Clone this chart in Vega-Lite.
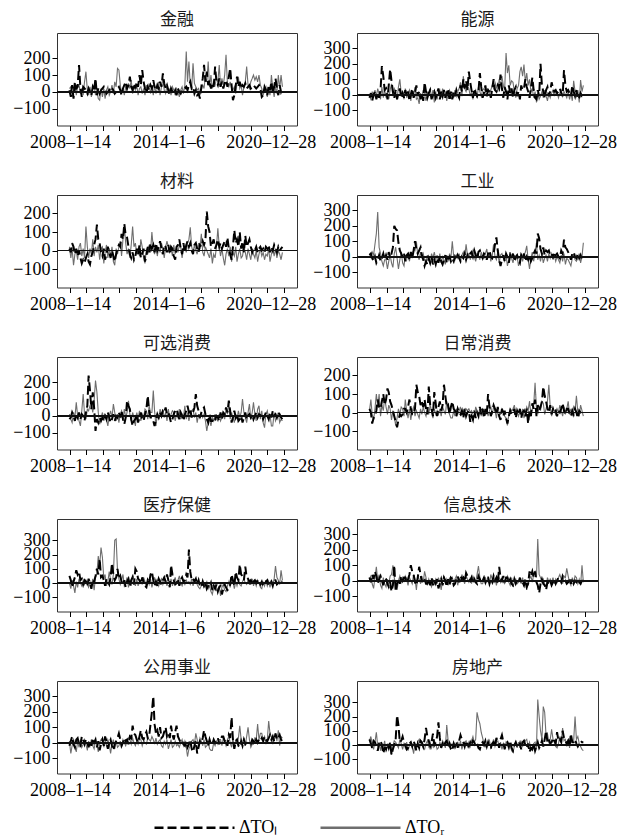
{
"$schema":"https://vega.github.io/schema/vega-lite/v6.json",
"padding":{"left":12,"top":10,"right":0,"bottom":0},
"background":"white",
"datasets":{"d":[
{"t":"2008-01","a":10,"A":20,"b":-20,"B":-10,"c":10,"C":20,"d":10,"D":20,"e":-20,"E":10,"f":20,"F":10,"g":50,"G":0,"h":20,"H":10,"i":-20,"I":10,"j":40,"J":30},
{"t":"2008-02","a":-30,"A":30,"b":10,"B":-30,"c":-10,"C":-40,"d":20,"D":-10,"e":-10,"E":-20,"f":0,"F":70,"g":20,"G":-40,"h":-10,"H":30,"i":10,"I":-70,"j":10,"J":60},
{"t":"2008-03","a":40,"A":-30,"b":-40,"B":20,"c":40,"C":10,"d":-10,"D":30,"e":20,"E":-40,"f":-60,"F":-10,"g":-30,"G":20,"h":40,"H":-20,"i":40,"I":-20,"j":-20,"J":10},
{"t":"2008-04","a":-40,"A":10,"b":0,"B":-20,"c":20,"C":-80,"d":-30,"D":10,"e":0,"E":20,"f":-30,"F":-40,"g":10,"G":-20,"h":10,"H":-50,"i":-10,"I":20,"j":30,"J":-30},
{"t":"2008-05","a":60,"A":50,"b":20,"B":30,"c":-20,"C":-20,"d":0,"D":80,"e":-30,"E":-10,"f":-20,"F":20,"g":40,"G":-70,"h":60,"H":20,"i":-30,"I":-10,"j":20,"J":20},
{"t":"2008-06","a":20,"A":-20,"b":-30,"B":-10,"c":10,"C":0,"d":-40,"D":150,"e":10,"E":80,"f":10,"F":100,"g":90,"G":10,"h":30,"H":90,"i":20,"I":-60,"j":-10,"J":90},
{"t":"2008-07","a":30,"A":30,"b":10,"B":40,"c":-30,"C":-50,"d":-20,"D":290,"e":-10,"E":0,"f":70,"F":30,"g":60,"G":-30,"h":-20,"H":0,"i":30,"I":10,"j":-40,"J":-10},
{"t":"2008-08","a":160,"A":40,"b":-20,"B":0,"c":0,"C":20,"d":10,"D":60,"e":20,"E":-30,"f":30,"F":100,"g":80,"G":30,"h":10,"H":40,"i":-10,"I":-30,"j":10,"J":20},
{"t":"2008-09","a":20,"A":-10,"b":30,"B":-30,"c":-40,"C":40,"d":-30,"D":20,"e":-20,"E":-60,"f":20,"F":-20,"g":20,"G":0,"h":30,"H":-30,"i":-20,"I":20,"j":30,"J":-40},
{"t":"2008-10","a":-30,"A":20,"b":185,"B":50,"c":-70,"C":-30,"d":-10,"D":-30,"e":10,"E":30,"f":60,"F":40,"g":30,"G":-20,"h":0,"H":-50,"i":40,"I":-30,"j":0,"J":10},
{"t":"2008-11","a":30,"A":-20,"b":120,"B":-20,"c":-50,"C":10,"d":20,"D":-60,"e":0,"E":130,"f":100,"F":10,"g":-10,"G":20,"h":-30,"H":20,"i":20,"I":-10,"j":-60,"J":-20},
{"t":"2008-12","a":20,"A":60,"b":30,"B":30,"c":-65,"C":-40,"d":-20,"D":-20,"e":-30,"E":10,"f":40,"F":80,"g":20,"G":-10,"h":20,"H":-20,"i":-10,"I":20,"j":-20,"J":30},
{"t":"2009-01","a":10,"A":120,"b":40,"B":-20,"c":-40,"C":130,"d":10,"D":-20,"e":20,"E":-20,"f":70,"F":30,"g":10,"G":20,"h":10,"H":-40,"i":20,"I":-10,"j":-30,"J":-50},
{"t":"2009-02","a":-10,"A":10,"b":-30,"B":20,"c":-20,"C":20,"d":-20,"D":-80,"e":60,"E":40,"f":130,"F":-10,"g":-20,"G":-10,"h":-20,"H":10,"i":0,"I":-50,"j":10,"J":10},
{"t":"2009-03","a":20,"A":-20,"b":60,"B":-30,"c":-60,"C":-40,"d":30,"D":-30,"e":240,"E":30,"f":110,"F":40,"g":30,"G":-30,"h":-40,"H":-20,"i":-30,"I":10,"j":-20,"J":-20},
{"t":"2009-04","a":0,"A":30,"b":165,"B":30,"c":-75,"C":10,"d":-10,"D":10,"e":150,"E":60,"f":60,"F":20,"g":0,"G":10,"h":-10,"H":30,"i":10,"I":-20,"j":20,"J":20},
{"t":"2009-05","a":-20,"A":-30,"b":90,"B":70,"c":-30,"C":-20,"d":20,"D":-40,"e":40,"E":80,"f":40,"F":-40,"g":-40,"G":-20,"h":-70,"H":40,"i":-20,"I":20,"j":-70,"J":-70},
{"t":"2009-06","a":30,"A":20,"b":20,"B":-10,"c":-10,"C":60,"d":60,"D":-70,"e":140,"E":20,"f":10,"F":10,"g":20,"G":30,"h":-30,"H":100,"i":30,"I":-20,"j":-30,"J":-10},
{"t":"2009-07","a":10,"A":40,"b":-20,"B":40,"c":30,"C":-30,"d":200,"D":20,"e":50,"E":90,"f":-20,"F":-20,"g":10,"G":-50,"h":100,"H":20,"i":0,"I":-40,"j":0,"J":30},
{"t":"2009-08","a":80,"A":-20,"b":30,"B":20,"c":60,"C":20,"d":180,"D":60,"e":-90,"E":210,"f":-50,"F":-70,"g":50,"G":40,"h":-70,"H":-30,"i":20,"I":10,"j":40,"J":20},
{"t":"2009-09","a":-20,"A":10,"b":-30,"B":-30,"c":140,"C":-10,"d":170,"D":-10,"e":-20,"E":140,"f":-80,"F":-30,"g":100,"G":70,"h":-20,"H":-60,"i":-30,"I":-10,"j":210,"J":0},
{"t":"2009-10","a":20,"A":-40,"b":10,"B":50,"c":60,"C":30,"d":90,"D":-80,"e":-40,"E":20,"f":-40,"F":20,"g":60,"G":190,"h":10,"H":0,"i":10,"I":-60,"j":140,"J":-20},
{"t":"2009-11","a":-10,"A":-50,"b":40,"B":100,"c":40,"C":-50,"d":40,"D":-20,"e":-10,"E":-50,"f":-10,"F":-10,"g":170,"G":120,"h":-20,"H":30,"i":-50,"I":0,"j":20,"J":40},
{"t":"2009-12","a":10,"A":20,"b":-20,"B":10,"c":-10,"C":10,"d":20,"D":30,"e":-30,"E":-10,"f":-20,"F":30,"g":40,"G":250,"h":30,"H":-10,"i":-10,"I":20,"j":30,"J":10},
{"t":"2010-01","a":20,"A":-30,"b":10,"B":20,"c":-30,"C":20,"d":0,"D":-40,"e":-10,"E":20,"f":-10,"F":20,"g":50,"G":180,"h":0,"H":20,"i":20,"I":30,"j":60,"J":-30},
{"t":"2010-02","a":30,"A":20,"b":-20,"B":-30,"c":10,"C":-70,"d":20,"D":-60,"e":-30,"E":-30,"f":20,"F":-20,"g":20,"G":30,"h":20,"H":-10,"i":-20,"I":-30,"j":20,"J":10},
{"t":"2010-03","a":10,"A":-40,"b":30,"B":40,"c":-50,"C":-10,"d":-30,"D":10,"e":0,"E":10,"f":20,"F":70,"g":-20,"G":60,"h":20,"H":30,"i":40,"I":10,"j":0,"J":-20},
{"t":"2010-04","a":-10,"A":10,"b":-10,"B":-20,"c":-20,"C":30,"d":10,"D":-20,"e":-20,"E":-20,"f":0,"F":10,"g":30,"G":-20,"h":-10,"H":10,"i":10,"I":-20,"j":-30,"J":20},
{"t":"2010-05","a":0,"A":30,"b":20,"B":10,"c":20,"C":-40,"d":20,"D":20,"e":20,"E":-60,"f":30,"F":-30,"g":10,"G":10,"h":10,"H":-30,"i":-40,"I":20,"j":-20,"J":-40},
{"t":"2010-06","a":10,"A":-20,"b":-40,"B":30,"c":-10,"C":10,"d":-20,"D":-30,"e":-10,"E":0,"f":70,"F":20,"g":-10,"G":80,"h":40,"H":20,"i":0,"I":-10,"j":10,"J":0},
{"t":"2010-07","a":30,"A":0,"b":0,"B":-40,"c":-40,"C":-30,"d":30,"D":30,"e":-40,"E":30,"f":20,"F":-40,"g":40,"G":20,"h":100,"H":0,"i":20,"I":-70,"j":20,"J":20},
{"t":"2010-08","a":20,"A":40,"b":40,"B":20,"c":0,"C":20,"d":-10,"D":-10,"e":-20,"E":-10,"f":-10,"F":10,"g":140,"G":-10,"h":60,"H":-20,"i":-20,"I":-10,"j":-10,"J":-10},
{"t":"2010-09","a":10,"A":-10,"b":-20,"B":-10,"c":-30,"C":-60,"d":40,"D":50,"e":10,"E":70,"f":-10,"F":30,"g":60,"G":60,"h":40,"H":40,"i":-50,"I":20,"j":30,"J":-60},
{"t":"2010-10","a":-10,"A":60,"b":10,"B":50,"c":-60,"C":-80,"d":100,"D":40,"e":-30,"E":20,"f":20,"F":-20,"g":20,"G":300,"h":-10,"H":10,"i":-10,"I":-40,"j":0,"J":10},
{"t":"2010-11","a":0,"A":30,"b":60,"B":-30,"c":-20,"C":10,"d":50,"D":100,"e":0,"E":-30,"f":150,"F":10,"g":40,"G":310,"h":-30,"H":-60,"i":10,"I":10,"j":-40,"J":-30},
{"t":"2010-12","a":20,"A":140,"b":-10,"B":-20,"c":10,"C":-20,"d":20,"D":10,"e":-10,"E":10,"f":110,"F":-10,"g":100,"G":90,"h":20,"H":30,"i":30,"I":-30,"j":10,"J":20},
{"t":"2011-01","a":30,"A":130,"b":20,"B":-60,"c":30,"C":20,"d":40,"D":-20,"e":20,"E":-40,"f":90,"F":-30,"g":30,"G":30,"h":90,"H":10,"i":60,"I":-20,"j":-20,"J":40},
{"t":"2011-02","a":10,"A":40,"b":-30,"B":10,"c":20,"C":50,"d":60,"D":30,"e":-10,"E":10,"f":40,"F":20,"g":50,"G":-10,"h":40,"H":-20,"i":20,"I":10,"j":30,"J":-10},
{"t":"2011-03","a":-20,"A":-10,"b":10,"B":-20,"c":90,"C":-30,"d":10,"D":-10,"e":30,"E":30,"f":60,"F":-10,"g":10,"G":20,"h":-10,"H":30,"i":-20,"I":-30,"j":20,"J":20},
{"t":"2011-04","a":20,"A":20,"b":-40,"B":30,"c":60,"C":60,"d":-20,"D":20,"e":-20,"E":-20,"f":30,"F":30,"g":-10,"G":60,"h":20,"H":-10,"i":0,"I":20,"j":-10,"J":-20},
{"t":"2011-05","a":40,"A":-20,"b":80,"B":0,"c":145,"C":130,"d":-60,"D":-20,"e":-50,"E":40,"f":70,"F":0,"g":20,"G":-20,"h":10,"H":60,"i":30,"I":0,"j":40,"J":-30},
{"t":"2011-06","a":60,"A":30,"b":20,"B":-40,"c":80,"C":40,"d":-30,"D":-40,"e":-10,"E":-10,"f":20,"F":-20,"g":-30,"G":0,"h":-20,"H":20,"i":10,"I":-20,"j":120,"J":10},
{"t":"2011-07","a":20,"A":10,"b":-20,"B":20,"c":70,"C":-20,"d":-50,"D":10,"e":90,"E":20,"f":-10,"F":20,"g":10,"G":40,"h":-20,"H":-30,"i":20,"I":10,"j":60,"J":30},
{"t":"2011-08","a":40,"A":50,"b":10,"B":-10,"c":20,"C":10,"d":-10,"D":-20,"e":60,"E":90,"f":140,"F":-10,"g":30,"G":-30,"h":10,"H":10,"i":-10,"I":30,"j":30,"J":-10},
{"t":"2011-09","a":90,"A":20,"b":30,"B":40,"c":-20,"C":-40,"d":-40,"D":-50,"e":40,"E":10,"f":40,"F":40,"g":-20,"G":10,"h":-30,"H":-20,"i":40,"I":20,"j":-10,"J":20},
{"t":"2011-10","a":30,"A":70,"b":-30,"B":-20,"c":-40,"C":30,"d":0,"D":20,"e":-20,"E":-30,"f":20,"F":10,"g":20,"G":-20,"h":20,"H":-40,"i":30,"I":-10,"j":20,"J":-20},
{"t":"2011-11","a":10,"A":-10,"b":0,"B":30,"c":-10,"C":130,"d":-50,"D":-10,"e":-60,"E":20,"f":-20,"F":-30,"g":40,"G":60,"h":-30,"H":10,"i":110,"I":30,"j":80,"J":10},
{"t":"2011-12","a":50,"A":30,"b":20,"B":-50,"c":-50,"C":20,"d":-20,"D":30,"e":-30,"E":-10,"f":110,"F":20,"g":-10,"G":20,"h":0,"H":-20,"i":60,"I":0,"j":0,"J":30},
{"t":"2012-01","a":20,"A":10,"b":-20,"B":20,"c":-30,"C":40,"d":-50,"D":-20,"e":-20,"E":-60,"f":50,"F":-10,"g":100,"G":-20,"h":-20,"H":10,"i":50,"I":-20,"j":20,"J":10},
{"t":"2012-02","a":60,"A":40,"b":10,"B":-30,"c":10,"C":-20,"d":-10,"D":10,"e":10,"E":20,"f":-20,"F":10,"g":80,"G":30,"h":10,"H":-20,"i":20,"I":10,"j":60,"J":-30},
{"t":"2012-03","a":30,"A":-20,"b":40,"B":10,"c":-20,"C":10,"d":-40,"D":-30,"e":-40,"E":-20,"f":30,"F":-10,"g":30,"G":-20,"h":-50,"H":20,"i":0,"I":-10,"j":160,"J":-20},
{"t":"2012-04","a":100,"A":20,"b":-30,"B":30,"c":30,"C":-30,"d":0,"D":20,"e":-10,"E":30,"f":60,"F":20,"g":20,"G":10,"h":-20,"H":-10,"i":40,"I":30,"j":50,"J":20},
{"t":"2012-05","a":40,"A":30,"b":20,"B":-20,"c":-40,"C":60,"d":-30,"D":-40,"e":20,"E":-30,"f":10,"F":-20,"g":-10,"G":20,"h":10,"H":-60,"i":80,"I":20,"j":-20,"J":-10},
{"t":"2012-06","a":130,"A":-10,"b":-10,"B":40,"c":-20,"C":20,"d":-50,"D":0,"e":-20,"E":10,"f":40,"F":30,"g":40,"G":-10,"h":-30,"H":0,"i":30,"I":-20,"j":10,"J":30},
{"t":"2012-07","a":60,"A":20,"b":30,"B":-10,"c":10,"C":-40,"d":-20,"D":-20,"e":-30,"E":-10,"f":150,"F":10,"g":10,"G":40,"h":20,"H":30,"i":20,"I":10,"j":-10,"J":10},
{"t":"2012-08","a":20,"A":-20,"b":-20,"B":20,"c":-60,"C":-70,"d":10,"D":-50,"e":10,"E":40,"f":90,"F":-10,"g":-20,"G":10,"h":0,"H":-20,"i":50,"I":0,"j":20,"J":-20},
{"t":"2012-09","a":-10,"A":40,"b":10,"B":-40,"c":-30,"C":10,"d":-40,"D":10,"e":40,"E":30,"f":30,"F":60,"g":-30,"G":-30,"h":-40,"H":10,"i":70,"I":-10,"j":30,"J":140},
{"t":"2012-10","a":30,"A":10,"b":40,"B":10,"c":20,"C":-20,"d":-10,"D":-30,"e":120,"E":-20,"f":40,"F":20,"g":20,"G":20,"h":10,"H":-30,"i":30,"I":30,"j":-20,"J":30},
{"t":"2012-11","a":10,"A":50,"b":-40,"B":30,"c":-10,"C":30,"d":0,"D":20,"e":30,"E":60,"f":-10,"F":-10,"g":0,"G":-10,"h":-30,"H":20,"i":40,"I":20,"j":10,"J":-20},
{"t":"2012-12","a":40,"A":-10,"b":20,"B":-20,"c":40,"C":-10,"d":-30,"D":-10,"e":-10,"E":20,"f":30,"F":-30,"g":60,"G":30,"h":20,"H":-10,"i":120,"I":10,"j":-30,"J":10},
{"t":"2013-01","a":20,"A":30,"b":-30,"B":10,"c":10,"C":100,"d":-10,"D":100,"e":-10,"E":20,"f":60,"F":-30,"g":80,"G":-30,"h":10,"H":20,"i":200,"I":40,"j":-40,"J":-10},
{"t":"2013-02","a":70,"A":-20,"b":20,"B":-20,"c":30,"C":10,"d":-30,"D":0,"e":-30,"E":150,"f":20,"F":10,"g":20,"G":10,"h":-30,"H":-10,"i":300,"I":20,"j":10,"J":20},
{"t":"2013-03","a":30,"A":40,"b":-10,"B":30,"c":-10,"C":-20,"d":0,"D":-20,"e":-60,"E":30,"f":10,"F":-20,"g":-20,"G":40,"h":-20,"H":10,"i":120,"I":-10,"j":-10,"J":-20},
{"t":"2013-04","a":10,"A":-10,"b":30,"B":-10,"c":40,"C":30,"d":-20,"D":10,"e":-20,"E":-60,"f":-20,"F":20,"g":10,"G":-10,"h":10,"H":30,"i":60,"I":30,"j":20,"J":10},
{"t":"2013-05","a":40,"A":20,"b":0,"B":20,"c":0,"C":-30,"d":10,"D":-10,"e":10,"E":10,"f":20,"F":-10,"g":-20,"G":20,"h":30,"H":-30,"i":80,"I":-10,"j":-20,"J":20},
{"t":"2013-06","a":20,"A":60,"b":-20,"B":40,"c":20,"C":20,"d":-10,"D":20,"e":-10,"E":-20,"f":0,"F":10,"g":30,"G":-20,"h":-10,"H":20,"i":40,"I":10,"j":30,"J":-10},
{"t":"2013-07","a":60,"A":-20,"b":60,"B":80,"c":50,"C":-10,"d":-30,"D":-30,"e":20,"E":40,"f":-10,"F":30,"g":10,"G":10,"h":30,"H":-10,"i":100,"I":20,"j":70,"J":30},
{"t":"2013-08","a":30,"A":30,"b":20,"B":-10,"c":10,"C":40,"d":0,"D":10,"e":0,"E":10,"f":10,"F":-20,"g":-10,"G":30,"h":10,"H":40,"i":30,"I":-20,"j":40,"J":-30},
{"t":"2013-09","a":110,"A":80,"b":100,"B":120,"c":-20,"C":10,"d":-10,"D":30,"e":30,"E":30,"f":-30,"F":10,"g":20,"G":-10,"h":20,"H":10,"i":40,"I":-30,"j":20,"J":10},
{"t":"2013-10","a":50,"A":10,"b":40,"B":40,"c":30,"C":-40,"d":20,"D":-10,"e":20,"E":-10,"f":20,"F":-10,"g":40,"G":20,"h":-10,"H":-20,"i":70,"I":10,"j":-10,"J":20},
{"t":"2013-11","a":20,"A":-10,"b":90,"B":20,"c":20,"C":20,"d":-20,"D":80,"e":50,"E":20,"f":-20,"F":20,"g":10,"G":20,"h":50,"H":30,"i":100,"I":-10,"j":30,"J":30},
{"t":"2013-12","a":40,"A":40,"b":30,"B":60,"c":-10,"C":50,"d":10,"D":10,"e":10,"E":-30,"f":0,"F":10,"g":60,"G":-20,"h":30,"H":10,"i":40,"I":20,"j":10,"J":-10},
{"t":"2014-01","a":10,"A":-10,"b":150,"B":40,"c":30,"C":20,"d":-10,"D":20,"e":20,"E":40,"f":10,"F":20,"g":20,"G":20,"h":20,"H":-10,"i":60,"I":-40,"j":-10,"J":20},
{"t":"2014-02","a":-20,"A":20,"b":80,"B":-10,"c":-20,"C":-10,"d":20,"D":-20,"e":-10,"E":-20,"f":-50,"F":0,"g":-30,"G":-10,"h":0,"H":20,"i":30,"I":-10,"j":20,"J":-10},
{"t":"2014-03","a":20,"A":-20,"b":30,"B":20,"c":20,"C":10,"d":30,"D":10,"e":-40,"E":10,"f":-20,"F":10,"g":125,"G":30,"h":20,"H":-20,"i":110,"I":20,"j":0,"J":30},
{"t":"2014-04","a":0,"A":30,"b":-20,"B":-30,"c":10,"C":-30,"d":0,"D":40,"e":-20,"E":30,"f":-40,"F":-10,"g":60,"G":-20,"h":-20,"H":30,"i":50,"I":-30,"j":30,"J":60},
{"t":"2014-05","a":-10,"A":10,"b":40,"B":10,"c":-30,"C":30,"d":40,"D":0,"e":10,"E":20,"f":10,"F":-20,"g":20,"G":10,"h":10,"H":10,"i":20,"I":-20,"j":20,"J":20},
{"t":"2014-06","a":10,"A":-20,"b":10,"B":30,"c":-50,"C":-20,"d":10,"D":-30,"e":30,"E":-30,"f":-30,"F":30,"g":-10,"G":40,"h":-10,"H":-10,"i":70,"I":10,"j":-10,"J":40},
{"t":"2014-07","a":-20,"A":20,"b":-10,"B":-20,"c":20,"C":20,"d":-20,"D":20,"e":40,"E":10,"f":0,"F":10,"g":0,"G":-10,"h":-20,"H":40,"i":110,"I":-20,"j":10,"J":230},
{"t":"2014-08","a":20,"A":0,"b":20,"B":50,"c":30,"C":-10,"d":30,"D":10,"e":10,"E":-10,"f":-20,"F":-10,"g":30,"G":20,"h":30,"H":95,"i":40,"I":-10,"j":-20,"J":180},
{"t":"2014-09","a":0,"A":-30,"b":140,"B":20,"c":60,"C":30,"d":40,"D":-20,"e":-20,"E":40,"f":30,"F":20,"g":-20,"G":50,"h":10,"H":20,"i":20,"I":-30,"j":-30,"J":150},
{"t":"2014-10","a":-10,"A":10,"b":50,"B":-10,"c":10,"C":20,"d":10,"D":30,"e":20,"E":-20,"f":-10,"F":-20,"g":20,"G":0,"h":-10,"H":-20,"i":0,"I":0,"j":10,"J":90},
{"t":"2014-11","a":10,"A":30,"b":-20,"B":30,"c":-20,"C":-40,"d":-10,"D":0,"e":0,"E":10,"f":20,"F":20,"g":40,"G":-20,"h":0,"H":-20,"i":10,"I":20,"j":20,"J":50},
{"t":"2014-12","a":20,"A":-10,"b":10,"B":40,"c":40,"C":10,"d":20,"D":-10,"e":-30,"E":-10,"f":-30,"F":10,"g":10,"G":10,"h":20,"H":10,"i":-10,"I":-20,"j":0,"J":10},
{"t":"2015-01","a":20,"A":40,"b":60,"B":20,"c":-10,"C":20,"d":10,"D":20,"e":10,"E":60,"f":20,"F":-10,"g":20,"G":-10,"h":-10,"H":20,"i":-20,"I":10,"j":30,"J":-10},
{"t":"2015-02","a":30,"A":240,"b":-10,"B":-10,"c":30,"C":-10,"d":-20,"D":50,"e":30,"E":-20,"f":-10,"F":20,"g":60,"G":20,"h":20,"H":-10,"i":10,"I":-30,"j":-10,"J":20},
{"t":"2015-03","a":10,"A":60,"b":30,"B":40,"c":50,"C":40,"d":20,"D":-10,"e":60,"E":20,"f":100,"F":-20,"g":40,"G":0,"h":20,"H":10,"i":-30,"I":-90,"j":20,"J":0},
{"t":"2015-04","a":40,"A":180,"b":20,"B":10,"c":20,"C":60,"d":40,"D":20,"e":20,"E":-30,"f":30,"F":10,"g":235,"G":10,"h":-20,"H":-20,"i":-10,"I":-40,"j":-20,"J":30},
{"t":"2015-05","a":60,"A":40,"b":-20,"B":30,"c":40,"C":125,"d":0,"D":-30,"e":40,"E":10,"f":-20,"F":30,"g":80,"G":-10,"h":10,"H":40,"i":20,"I":-20,"j":-20,"J":-20},
{"t":"2015-06","a":20,"A":20,"b":40,"B":60,"c":0,"C":20,"d":-10,"D":10,"e":-10,"E":30,"f":10,"F":-10,"g":20,"G":30,"h":-10,"H":10,"i":-40,"I":10,"j":10,"J":10},
{"t":"2015-07","a":30,"A":170,"b":100,"B":40,"c":-20,"C":-10,"d":20,"D":80,"e":20,"E":40,"f":40,"F":30,"g":30,"G":-20,"h":30,"H":-10,"i":-60,"I":20,"j":20,"J":40},
{"t":"2015-08","a":-10,"A":50,"b":30,"B":80,"c":30,"C":30,"d":80,"D":0,"e":50,"E":-10,"f":20,"F":10,"g":10,"G":10,"h":0,"H":20,"i":-20,"I":-10,"j":-10,"J":-10},
{"t":"2015-09","a":10,"A":30,"b":20,"B":50,"c":40,"C":0,"d":125,"D":-20,"e":130,"E":20,"f":-10,"F":-30,"g":30,"G":20,"h":20,"H":-30,"i":10,"I":60,"j":50,"J":20},
{"t":"2015-10","a":-20,"A":10,"b":60,"B":20,"c":10,"C":-20,"d":40,"D":30,"e":60,"E":-40,"f":30,"F":20,"g":-10,"G":-10,"h":-20,"H":10,"i":-70,"I":20,"j":20,"J":30},
{"t":"2015-11","a":-10,"A":20,"b":40,"B":100,"c":-10,"C":40,"d":-20,"D":-40,"e":30,"E":10,"f":-20,"F":0,"g":20,"G":-30,"h":90,"H":20,"i":-30,"I":-20,"j":-20,"J":-10},
{"t":"2015-12","a":-40,"A":-20,"b":130,"B":60,"c":30,"C":10,"d":-60,"D":10,"e":-10,"E":-20,"f":-40,"F":-10,"g":-20,"G":-40,"h":20,"H":-10,"i":10,"I":30,"j":40,"J":20},
{"t":"2016-01","a":30,"A":10,"b":40,"B":120,"c":20,"C":90,"d":-20,"D":20,"e":20,"E":20,"f":20,"F":20,"g":-30,"G":-20,"h":0,"H":20,"i":0,"I":10,"j":70,"J":-30},
{"t":"2016-02","a":80,"A":40,"b":-20,"B":60,"c":50,"C":-10,"d":10,"D":-10,"e":40,"E":-10,"f":-20,"F":10,"g":10,"G":10,"h":30,"H":-10,"i":30,"I":-20,"j":20,"J":10},
{"t":"2016-03","a":160,"A":20,"b":50,"B":30,"c":30,"C":-30,"d":-30,"D":-30,"e":50,"E":10,"f":10,"F":-20,"g":-20,"G":-30,"h":-10,"H":-20,"i":80,"I":20,"j":-30,"J":-20},
{"t":"2016-04","a":60,"A":100,"b":20,"B":270,"c":60,"C":20,"d":20,"D":10,"e":10,"E":-30,"f":-30,"F":-30,"g":0,"G":-10,"h":20,"H":10,"i":40,"I":-30,"j":10,"J":20},
{"t":"2016-05","a":120,"A":60,"b":-30,"B":140,"c":210,"C":0,"d":0,"D":-60,"e":-20,"E":-90,"f":-60,"F":-70,"g":-40,"G":10,"h":20,"H":30,"i":10,"I":-20,"j":20,"J":0},
{"t":"2016-06","a":40,"A":180,"b":60,"B":190,"c":130,"C":-20,"d":-40,"D":-20,"e":-40,"E":-40,"f":-20,"F":-10,"g":-20,"G":-40,"h":-10,"H":-10,"i":-20,"I":10,"j":-10,"J":-30},
{"t":"2016-07","a":70,"A":30,"b":10,"B":60,"c":100,"C":-40,"d":10,"D":30,"e":10,"E":-20,"f":10,"F":20,"g":-30,"G":-20,"h":10,"H":-30,"i":20,"I":-40,"j":30,"J":10},
{"t":"2016-08","a":20,"A":100,"b":40,"B":90,"c":20,"C":10,"d":-10,"D":-10,"e":-30,"E":-60,"f":-10,"F":10,"g":0,"G":-60,"h":-20,"H":20,"i":-10,"I":-50,"j":-20,"J":-40},
{"t":"2016-09","a":50,"A":20,"b":-20,"B":80,"c":40,"C":-70,"d":20,"D":-40,"e":-30,"E":-10,"f":0,"F":20,"g":-50,"G":-80,"h":-30,"H":-40,"i":-10,"I":-50,"j":-40,"J":-50},
{"t":"2016-10","a":30,"A":60,"b":30,"B":20,"c":60,"C":-20,"d":-30,"D":10,"e":-10,"E":-30,"f":20,"F":40,"g":-20,"G":-30,"h":10,"H":-10,"i":20,"I":0,"j":0,"J":-10},
{"t":"2016-11","a":150,"A":40,"b":50,"B":-20,"c":10,"C":-40,"d":0,"D":-20,"e":-20,"E":10,"f":-30,"F":-10,"g":-40,"G":-10,"h":-20,"H":10,"i":0,"I":-20,"j":20,"J":20},
{"t":"2016-12","a":60,"A":80,"b":-10,"B":40,"c":30,"C":20,"d":10,"D":0,"e":0,"E":-20,"f":10,"F":0,"g":-10,"G":-50,"h":0,"H":-20,"i":10,"I":10,"j":-10,"J":-20},
{"t":"2017-01","a":40,"A":60,"b":20,"B":60,"c":60,"C":120,"d":-20,"D":-60,"e":-10,"E":-30,"f":-10,"F":-20,"g":-60,"G":-40,"h":-10,"H":-10,"i":30,"I":-10,"j":-20,"J":20},
{"t":"2017-02","a":80,"A":160,"b":-30,"B":150,"c":20,"C":20,"d":-40,"D":-20,"e":-30,"E":10,"f":20,"F":10,"g":-30,"G":-20,"h":20,"H":10,"i":-10,"I":20,"j":10,"J":-20},
{"t":"2017-03","a":30,"A":30,"b":60,"B":180,"c":40,"C":-30,"d":10,"D":20,"e":20,"E":-30,"f":-30,"F":-20,"g":-20,"G":-90,"h":-20,"H":-20,"i":20,"I":20,"j":-30,"J":20},
{"t":"2017-04","a":60,"A":80,"b":30,"B":120,"c":10,"C":10,"d":-10,"D":-30,"e":-20,"E":-10,"f":0,"F":20,"g":-80,"G":-30,"h":-10,"H":20,"i":40,"I":-20,"j":20,"J":-10},
{"t":"2017-05","a":20,"A":40,"b":40,"B":195,"c":30,"C":-40,"d":20,"D":10,"e":20,"E":20,"f":10,"F":-30,"g":-40,"G":-10,"h":-30,"H":-30,"i":40,"I":30,"j":30,"J":10},
{"t":"2017-06","a":50,"A":100,"b":100,"B":80,"c":50,"C":-80,"d":-30,"D":30,"e":10,"E":-20,"f":-20,"F":0,"g":-10,"G":-50,"h":10,"H":-10,"i":10,"I":10,"j":0,"J":30},
{"t":"2017-07","a":70,"A":220,"b":50,"B":140,"c":20,"C":-20,"d":0,"D":70,"e":50,"E":40,"f":20,"F":30,"g":-30,"G":-60,"h":-40,"H":-60,"i":20,"I":-20,"j":-20,"J":40},
{"t":"2017-08","a":30,"A":50,"b":20,"B":60,"c":70,"C":10,"d":-20,"D":-20,"e":20,"E":10,"f":-60,"F":10,"g":-50,"G":-20,"h":-20,"H":-20,"i":-20,"I":20,"j":10,"J":-10},
{"t":"2017-09","a":90,"A":30,"b":-20,"B":100,"c":10,"C":-30,"d":10,"D":-80,"e":90,"E":80,"f":10,"F":60,"g":-40,"G":10,"h":60,"H":10,"i":50,"I":40,"j":-50,"J":20},
{"t":"2017-10","a":140,"A":60,"b":40,"B":20,"c":-20,"C":20,"d":-30,"D":-10,"e":30,"E":-20,"f":-20,"F":-10,"g":-10,"G":-30,"h":30,"H":30,"i":30,"I":0,"j":-20,"J":-30},
{"t":"2017-11","a":40,"A":20,"b":110,"B":40,"c":-50,"C":-60,"d":-10,"D":30,"e":-40,"E":20,"f":50,"F":20,"g":60,"G":40,"h":60,"H":-10,"i":165,"I":-30,"j":-30,"J":-40},
{"t":"2017-12","a":-50,"A":10,"b":30,"B":-20,"c":20,"C":-10,"d":20,"D":-30,"e":-10,"E":-10,"f":20,"F":40,"g":20,"G":10,"h":20,"H":40,"i":20,"I":30,"j":10,"J":10},
{"t":"2018-01","a":-20,"A":30,"b":-20,"B":20,"c":110,"C":-30,"d":40,"D":20,"e":30,"E":-40,"f":70,"F":160,"g":-20,"G":-40,"h":60,"H":60,"i":-40,"I":-40,"j":-40,"J":20},
{"t":"2018-02","a":40,"A":-10,"b":-30,"B":-50,"c":40,"C":20,"d":20,"D":90,"e":-10,"E":10,"f":-20,"F":20,"g":80,"G":10,"h":-10,"H":20,"i":10,"I":20,"j":-10,"J":-20},
{"t":"2018-03","a":90,"A":50,"b":30,"B":10,"c":60,"C":-60,"d":150,"D":-20,"e":10,"E":-20,"f":40,"F":-10,"g":40,"G":-20,"h":-30,"H":270,"i":20,"I":-10,"j":20,"J":320},
{"t":"2018-04","a":30,"A":90,"b":-10,"B":-30,"c":20,"C":-20,"d":120,"D":10,"e":-30,"E":30,"f":10,"F":30,"g":20,"G":20,"h":-80,"H":40,"i":-20,"I":30,"j":-20,"J":200},
{"t":"2018-05","a":60,"A":20,"b":200,"B":-10,"c":100,"C":10,"d":50,"D":-30,"e":-20,"E":-10,"f":30,"F":10,"g":130,"G":-10,"h":-20,"H":20,"i":-30,"I":110,"j":0,"J":100},
{"t":"2018-06","a":20,"A":40,"b":60,"B":20,"c":10,"C":-40,"d":20,"D":20,"e":0,"E":20,"f":60,"F":60,"g":60,"G":-20,"h":10,"H":-10,"i":10,"I":20,"j":30,"J":40},
{"t":"2018-07","a":40,"A":-20,"b":20,"B":-20,"c":50,"C":-30,"d":60,"D":-40,"e":-40,"E":100,"f":140,"F":50,"g":50,"G":10,"h":-20,"H":10,"i":-20,"I":-10,"j":-10,"J":270},
{"t":"2018-08","a":30,"A":30,"b":-20,"B":30,"c":-10,"C":20,"d":10,"D":-10,"e":-10,"E":20,"f":90,"F":-10,"g":20,"G":30,"h":-30,"H":-20,"i":20,"I":30,"j":40,"J":230},
{"t":"2018-09","a":50,"A":60,"b":30,"B":-10,"c":80,"C":-10,"d":40,"D":10,"e":20,"E":-10,"f":60,"F":20,"g":115,"G":0,"h":-60,"H":-40,"i":-10,"I":-20,"j":100,"J":60},
{"t":"2018-10","a":20,"A":150,"b":50,"B":-40,"c":20,"C":-50,"d":30,"D":-30,"e":-20,"E":-40,"f":20,"F":60,"g":40,"G":-10,"h":-10,"H":20,"i":0,"I":40,"j":20,"J":80},
{"t":"2018-11","a":30,"A":40,"b":-10,"B":10,"c":40,"C":10,"d":40,"D":20,"e":0,"E":20,"f":0,"F":150,"g":30,"G":20,"h":-20,"H":-10,"i":0,"I":100,"j":40,"J":20},
{"t":"2018-12","a":40,"A":20,"b":20,"B":-20,"c":60,"C":-20,"d":10,"D":-10,"e":10,"E":70,"f":40,"F":30,"g":10,"G":-10,"h":0,"H":10,"i":-10,"I":20,"j":10,"J":40},
{"t":"2019-01","a":20,"A":60,"b":80,"B":10,"c":20,"C":-50,"d":20,"D":20,"e":-10,"E":-20,"f":-10,"F":-20,"g":20,"G":-10,"h":-30,"H":-10,"i":-10,"I":-30,"j":20,"J":110},
{"t":"2019-02","a":30,"A":80,"b":40,"B":30,"c":-10,"C":10,"d":-10,"D":-20,"e":10,"E":20,"f":20,"F":20,"g":-10,"G":30,"h":-10,"H":20,"i":20,"I":-10,"j":50,"J":40},
{"t":"2019-03","a":40,"A":100,"b":20,"B":-10,"c":10,"C":-20,"d":30,"D":10,"e":-20,"E":80,"f":0,"F":10,"g":10,"G":-20,"h":10,"H":-20,"i":10,"I":-10,"j":30,"J":20},
{"t":"2019-04","a":30,"A":70,"b":30,"B":20,"c":0,"C":-40,"d":10,"D":-30,"e":0,"E":10,"f":10,"F":-10,"g":20,"G":10,"h":-20,"H":10,"i":-10,"I":30,"j":10,"J":-10},
{"t":"2019-05","a":20,"A":90,"b":10,"B":20,"c":20,"C":0,"d":20,"D":0,"e":20,"E":-30,"f":-20,"F":20,"g":0,"G":-20,"h":0,"H":-10,"i":20,"I":20,"j":90,"J":-20},
{"t":"2019-06","a":30,"A":60,"b":20,"B":-20,"c":-10,"C":-60,"d":0,"D":-20,"e":-10,"E":40,"f":10,"F":0,"g":20,"G":20,"h":20,"H":20,"i":0,"I":120,"j":30,"J":10},
{"t":"2019-07","a":40,"A":100,"b":40,"B":10,"c":10,"C":-20,"d":-10,"D":-40,"e":10,"E":60,"f":0,"F":40,"g":20,"G":0,"h":10,"H":40,"i":20,"I":20,"j":40,"J":60},
{"t":"2019-08","a":20,"A":40,"b":10,"B":30,"c":20,"C":10,"d":40,"D":10,"e":0,"E":-20,"f":20,"F":10,"g":-10,"G":-30,"h":-10,"H":10,"i":10,"I":60,"j":20,"J":20},
{"t":"2019-09","a":-30,"A":20,"b":-10,"B":-10,"c":0,"C":-30,"d":20,"D":-30,"e":10,"E":30,"f":50,"F":-20,"g":10,"G":-40,"h":30,"H":-20,"i":30,"I":60,"j":100,"J":120},
{"t":"2019-10","a":-20,"A":-20,"b":160,"B":20,"c":10,"C":-10,"d":110,"D":20,"e":-20,"E":-40,"f":10,"F":30,"g":-20,"G":10,"h":10,"H":30,"i":10,"I":20,"j":50,"J":30},
{"t":"2019-11","a":30,"A":10,"b":60,"B":0,"c":-10,"C":-50,"d":60,"D":-50,"e":0,"E":-70,"f":-10,"F":-10,"g":-20,"G":-20,"h":0,"H":20,"i":40,"I":40,"j":30,"J":40},
{"t":"2019-12","a":10,"A":30,"b":20,"B":-20,"c":20,"C":-20,"d":50,"D":-10,"e":20,"E":10,"f":20,"F":20,"g":10,"G":20,"h":-20,"H":80,"i":20,"I":-10,"j":10,"J":-10},
{"t":"2020-01","a":-20,"A":-30,"b":30,"B":20,"c":10,"C":-30,"d":30,"D":-20,"e":0,"E":30,"f":20,"F":60,"g":20,"G":-20,"h":-10,"H":30,"i":10,"I":20,"j":30,"J":40},
{"t":"2020-02","a":40,"A":20,"b":10,"B":-30,"c":30,"C":10,"d":10,"D":-40,"e":-20,"E":-20,"f":-10,"F":-10,"g":-20,"G":10,"h":20,"H":-10,"i":30,"I":140,"j":-10,"J":-20},
{"t":"2020-03","a":10,"A":-20,"b":-10,"B":10,"c":-10,"C":-60,"d":-20,"D":-60,"e":20,"E":10,"f":-20,"F":20,"g":-10,"G":-30,"h":-20,"H":-30,"i":50,"I":60,"j":80,"J":60},
{"t":"2020-04","a":60,"A":100,"b":60,"B":-40,"c":20,"C":-20,"d":20,"D":-10,"e":-10,"E":-60,"f":10,"F":-20,"g":10,"G":20,"h":10,"H":20,"i":20,"I":40,"j":20,"J":20},
{"t":"2020-05","a":-10,"A":20,"b":20,"B":90,"c":0,"C":10,"d":30,"D":10,"e":30,"E":-60,"f":-10,"F":30,"g":-20,"G":-10,"h":-20,"H":-10,"i":40,"I":-10,"j":20,"J":30},
{"t":"2020-06","a":30,"A":-30,"b":-10,"B":20,"c":30,"C":-30,"d":0,"D":-20,"e":0,"E":20,"f":20,"F":10,"g":20,"G":30,"h":0,"H":30,"i":10,"I":20,"j":40,"J":200},
{"t":"2020-07","a":80,"A":30,"b":30,"B":-10,"c":10,"C":10,"d":-10,"D":-30,"e":10,"E":-30,"f":0,"F":90,"g":20,"G":120,"h":-10,"H":20,"i":60,"I":60,"j":10,"J":40},
{"t":"2020-08","a":20,"A":-10,"b":-30,"B":30,"c":-10,"C":-40,"d":20,"D":-10,"e":-10,"E":-10,"f":-30,"F":0,"g":-10,"G":40,"h":10,"H":-20,"i":20,"I":10,"j":-10,"J":60},
{"t":"2020-09","a":-20,"A":100,"b":-20,"B":-50,"c":20,"C":0,"d":-10,"D":20,"e":20,"E":20,"f":10,"F":-20,"g":0,"G":20,"h":-10,"H":10,"i":30,"I":80,"j":10,"J":10},
{"t":"2020-10","a":40,"A":20,"b":10,"B":95,"c":0,"C":-20,"d":10,"D":-40,"e":10,"E":-40,"f":0,"F":40,"g":20,"G":-10,"h":-20,"H":-30,"i":50,"I":-20,"j":30,"J":-10},
{"t":"2020-11","a":0,"A":100,"b":-10,"B":20,"c":10,"C":-50,"d":-20,"D":0,"e":-10,"E":-20,"f":-10,"F":10,"g":10,"G":90,"h":0,"H":100,"i":20,"I":40,"j":20,"J":-30},
{"t":"2020-12","a":20,"A":30,"b":-10,"B":60,"c":20,"C":-10,"d":-20,"D":90,"e":-20,"E":-30,"f":-20,"F":-20,"g":10,"G":20,"h":0,"H":-10,"i":10,"I":30,"j":20,"J":-40}
]},
"data":{"name":"d"},
"columns":2,
"spacing":{"row":69,"column":60},
"bounds":"flush",
"resolve":{"scale":{"color":"shared","strokeDash":"shared"},"legend":{"color":"shared","strokeDash":"shared"}},
"config":{
"view":{"stroke":"#333","strokeWidth":1},
"axis":{"grid":false,"domain":false,"tickColor":"#000","tickSize":5,"labelFont":"Liberation Serif","labelFontSize":18,"labelColor":"#000","labelPadding":2,"labelFlush":false,"labelBound":false,"labelOverlap":false},
"axisX":{"labelPadding":3},
"title":{"font":"Noto Sans CJK SC","fontSize":17,"fontWeight":400,"color":"#1a1a1a","offset":4},
"legend":{"symbolType":"stroke","symbolSize":6400,"symbolStrokeWidth":2.5,"labelFont":"Liberation Serif","labelFontSize":18,"labelColor":"#000","columnPadding":37,"labelOffset":3}
},
"concat":[
{"title":"金融","width":240,"height":92.5,"resolve":{"axis":{"x":"independent","y":"independent"}},"layer":[
{"mark":{"type":"line","strokeWidth":1.1},"encoding":{"x":{"field":"t","type":"temporal","scale":{"type":"utc","domain":[{"year":2007,"month":4,"date":1,"utc":true},{"year":2021,"month":10,"date":20,"utc":true}]},"axis":{"title":null,"orient":"bottom","labelOffset":{"condition":{"test":"utcyear(datum.value) == 2020","value":-13},"value":0},"values":[{"year":2008,"month":1,"date":14,"utc":true},{"year":2014,"month":1,"date":6,"utc":true},{"year":2020,"month":12,"date":28,"utc":true}],"labelExpr":"utcFormat(datum.value, '%Y–%-m–%-d')"}},"y":{"field":"A","type":"quantitative","scale":{"domain":[-180,312]},"axis":{"title":null,"orient":"left","values":[-100,100]}},"color":{"datum":"ΔTOᵣ","scale":{"domain":["ΔTOₗ","ΔTOᵣ"],"range":["#000000","#6e6e6e"]},"legend":{"title":null,"orient":"none","direction":"horizontal","legendX":96,"legendY":753}},"strokeDash":{"datum":"ΔTOᵣ","scale":{"domain":["ΔTOₗ","ΔTOᵣ"],"range":[[9,4],[1,0]]},"legend":{"title":null,"orient":"none","direction":"horizontal","legendX":96,"legendY":753}}}},
{"mark":{"type":"line","strokeWidth":2},"encoding":{"x":{"field":"t","type":"temporal","axis":{"title":null,"orient":"bottom","labels":false,"values":[{"year":2008,"month":1,"date":14,"utc":true},{"year":2009,"month":1,"date":12,"utc":true},{"year":2010,"month":1,"date":11,"utc":true},{"year":2011,"month":1,"date":10,"utc":true},{"year":2012,"month":1,"date":9,"utc":true},{"year":2013,"month":1,"date":7,"utc":true},{"year":2014,"month":1,"date":6,"utc":true},{"year":2015,"month":1,"date":5,"utc":true},{"year":2016,"month":1,"date":4,"utc":true},{"year":2017,"month":1,"date":2,"utc":true},{"year":2018,"month":1,"date":1,"utc":true},{"year":2018,"month":12,"date":31,"utc":true},{"year":2019,"month":12,"date":30,"utc":true},{"year":2020,"month":12,"date":28,"utc":true}]}},"y":{"field":"a","type":"quantitative","axis":{"title":null,"orient":"left","values":[0,200]}},"color":{"datum":"ΔTOₗ"},"strokeDash":{"datum":"ΔTOₗ"}}},
{"mark":{"type":"rule","color":"#111","strokeWidth":1.2},"encoding":{"y":{"datum":0,"axis":null}}}
]},
{"title":"能源","width":241,"height":92.5,"resolve":{"axis":{"x":"independent","y":"independent"}},"layer":[
{"mark":{"type":"line","strokeWidth":1.1},"encoding":{"x":{"field":"t","type":"temporal","scale":{"type":"utc","domain":[{"year":2007,"month":4,"date":1,"utc":true},{"year":2021,"month":10,"date":20,"utc":true}]},"axis":{"title":null,"orient":"bottom","labelOffset":{"condition":{"test":"utcyear(datum.value) == 2020","value":-13},"value":0},"values":[{"year":2008,"month":1,"date":14,"utc":true},{"year":2014,"month":1,"date":6,"utc":true},{"year":2020,"month":12,"date":28,"utc":true}],"labelExpr":"utcFormat(datum.value, '%Y–%-m–%-d')"}},"y":{"field":"B","type":"quantitative","scale":{"domain":[-190,385]},"axis":{"title":null,"orient":"left","values":[-100,100,300]}},"color":{"datum":"ΔTOᵣ"},"strokeDash":{"datum":"ΔTOᵣ"}}},
{"mark":{"type":"line","strokeWidth":2},"encoding":{"x":{"field":"t","type":"temporal","axis":{"title":null,"orient":"bottom","labels":false,"values":[{"year":2008,"month":1,"date":14,"utc":true},{"year":2009,"month":1,"date":12,"utc":true},{"year":2010,"month":1,"date":11,"utc":true},{"year":2011,"month":1,"date":10,"utc":true},{"year":2012,"month":1,"date":9,"utc":true},{"year":2013,"month":1,"date":7,"utc":true},{"year":2014,"month":1,"date":6,"utc":true},{"year":2015,"month":1,"date":5,"utc":true},{"year":2016,"month":1,"date":4,"utc":true},{"year":2017,"month":1,"date":2,"utc":true},{"year":2018,"month":1,"date":1,"utc":true},{"year":2018,"month":12,"date":31,"utc":true},{"year":2019,"month":12,"date":30,"utc":true},{"year":2020,"month":12,"date":28,"utc":true}]}},"y":{"field":"b","type":"quantitative","axis":{"title":null,"orient":"left","values":[0,200]}},"color":{"datum":"ΔTOₗ"},"strokeDash":{"datum":"ΔTOₗ"}}},
{"mark":{"type":"rule","color":"#111","strokeWidth":1.2},"encoding":{"y":{"datum":0,"axis":null}}}
]},
{"title":"材料","width":240,"height":92.5,"resolve":{"axis":{"x":"independent","y":"independent"}},"layer":[
{"mark":{"type":"line","strokeWidth":1.1},"encoding":{"x":{"field":"t","type":"temporal","scale":{"type":"utc","domain":[{"year":2007,"month":4,"date":1,"utc":true},{"year":2021,"month":10,"date":20,"utc":true}]},"axis":{"title":null,"orient":"bottom","labelOffset":{"condition":{"test":"utcyear(datum.value) == 2020","value":-13},"value":0},"values":[{"year":2008,"month":1,"date":14,"utc":true},{"year":2014,"month":1,"date":6,"utc":true},{"year":2020,"month":12,"date":28,"utc":true}],"labelExpr":"utcFormat(datum.value, '%Y–%-m–%-d')"}},"y":{"field":"C","type":"quantitative","scale":{"domain":[-169,282]},"axis":{"title":null,"orient":"left","values":[-100,100]}},"color":{"datum":"ΔTOᵣ"},"strokeDash":{"datum":"ΔTOᵣ"}}},
{"mark":{"type":"line","strokeWidth":2},"encoding":{"x":{"field":"t","type":"temporal","axis":{"title":null,"orient":"bottom","labels":false,"values":[{"year":2008,"month":1,"date":14,"utc":true},{"year":2009,"month":1,"date":12,"utc":true},{"year":2010,"month":1,"date":11,"utc":true},{"year":2011,"month":1,"date":10,"utc":true},{"year":2012,"month":1,"date":9,"utc":true},{"year":2013,"month":1,"date":7,"utc":true},{"year":2014,"month":1,"date":6,"utc":true},{"year":2015,"month":1,"date":5,"utc":true},{"year":2016,"month":1,"date":4,"utc":true},{"year":2017,"month":1,"date":2,"utc":true},{"year":2018,"month":1,"date":1,"utc":true},{"year":2018,"month":12,"date":31,"utc":true},{"year":2019,"month":12,"date":30,"utc":true},{"year":2020,"month":12,"date":28,"utc":true}]}},"y":{"field":"c","type":"quantitative","axis":{"title":null,"orient":"left","values":[0,200]}},"color":{"datum":"ΔTOₗ"},"strokeDash":{"datum":"ΔTOₗ"}}},
{"mark":{"type":"rule","color":"#111","strokeWidth":1.2},"encoding":{"y":{"datum":0,"axis":null}}}
]},
{"title":"工业","width":241,"height":92.5,"resolve":{"axis":{"x":"independent","y":"independent"}},"layer":[
{"mark":{"type":"line","strokeWidth":1.1},"encoding":{"x":{"field":"t","type":"temporal","scale":{"type":"utc","domain":[{"year":2007,"month":4,"date":1,"utc":true},{"year":2021,"month":10,"date":20,"utc":true}]},"axis":{"title":null,"orient":"bottom","labelOffset":{"condition":{"test":"utcyear(datum.value) == 2020","value":-13},"value":0},"values":[{"year":2008,"month":1,"date":14,"utc":true},{"year":2014,"month":1,"date":6,"utc":true},{"year":2020,"month":12,"date":28,"utc":true}],"labelExpr":"utcFormat(datum.value, '%Y–%-m–%-d')"}},"y":{"field":"D","type":"quantitative","scale":{"domain":[-193,394]},"axis":{"title":null,"orient":"left","values":[-100,100,300]}},"color":{"datum":"ΔTOᵣ"},"strokeDash":{"datum":"ΔTOᵣ"}}},
{"mark":{"type":"line","strokeWidth":2},"encoding":{"x":{"field":"t","type":"temporal","axis":{"title":null,"orient":"bottom","labels":false,"values":[{"year":2008,"month":1,"date":14,"utc":true},{"year":2009,"month":1,"date":12,"utc":true},{"year":2010,"month":1,"date":11,"utc":true},{"year":2011,"month":1,"date":10,"utc":true},{"year":2012,"month":1,"date":9,"utc":true},{"year":2013,"month":1,"date":7,"utc":true},{"year":2014,"month":1,"date":6,"utc":true},{"year":2015,"month":1,"date":5,"utc":true},{"year":2016,"month":1,"date":4,"utc":true},{"year":2017,"month":1,"date":2,"utc":true},{"year":2018,"month":1,"date":1,"utc":true},{"year":2018,"month":12,"date":31,"utc":true},{"year":2019,"month":12,"date":30,"utc":true},{"year":2020,"month":12,"date":28,"utc":true}]}},"y":{"field":"d","type":"quantitative","axis":{"title":null,"orient":"left","values":[0,200]}},"color":{"datum":"ΔTOₗ"},"strokeDash":{"datum":"ΔTOₗ"}}},
{"mark":{"type":"rule","color":"#111","strokeWidth":1.2},"encoding":{"y":{"datum":0,"axis":null}}}
]},
{"title":"可选消费","width":240,"height":92.5,"resolve":{"axis":{"x":"independent","y":"independent"}},"layer":[
{"mark":{"type":"line","strokeWidth":1.1},"encoding":{"x":{"field":"t","type":"temporal","scale":{"type":"utc","domain":[{"year":2007,"month":4,"date":1,"utc":true},{"year":2021,"month":10,"date":20,"utc":true}]},"axis":{"title":null,"orient":"bottom","labelOffset":{"condition":{"test":"utcyear(datum.value) == 2020","value":-13},"value":0},"values":[{"year":2008,"month":1,"date":14,"utc":true},{"year":2014,"month":1,"date":6,"utc":true},{"year":2020,"month":12,"date":28,"utc":true}],"labelExpr":"utcFormat(datum.value, '%Y–%-m–%-d')"}},"y":{"field":"E","type":"quantitative","scale":{"domain":[-180,314]},"axis":{"title":null,"orient":"left","values":[-100,100]}},"color":{"datum":"ΔTOᵣ"},"strokeDash":{"datum":"ΔTOᵣ"}}},
{"mark":{"type":"line","strokeWidth":2},"encoding":{"x":{"field":"t","type":"temporal","axis":{"title":null,"orient":"bottom","labels":false,"values":[{"year":2008,"month":1,"date":14,"utc":true},{"year":2009,"month":1,"date":12,"utc":true},{"year":2010,"month":1,"date":11,"utc":true},{"year":2011,"month":1,"date":10,"utc":true},{"year":2012,"month":1,"date":9,"utc":true},{"year":2013,"month":1,"date":7,"utc":true},{"year":2014,"month":1,"date":6,"utc":true},{"year":2015,"month":1,"date":5,"utc":true},{"year":2016,"month":1,"date":4,"utc":true},{"year":2017,"month":1,"date":2,"utc":true},{"year":2018,"month":1,"date":1,"utc":true},{"year":2018,"month":12,"date":31,"utc":true},{"year":2019,"month":12,"date":30,"utc":true},{"year":2020,"month":12,"date":28,"utc":true}]}},"y":{"field":"e","type":"quantitative","axis":{"title":null,"orient":"left","values":[0,200]}},"color":{"datum":"ΔTOₗ"},"strokeDash":{"datum":"ΔTOₗ"}}},
{"mark":{"type":"rule","color":"#111","strokeWidth":1.2},"encoding":{"y":{"datum":0,"axis":null}}}
]},
{"title":"日常消费","width":241,"height":92.5,"resolve":{"axis":{"x":"independent","y":"independent"}},"layer":[
{"mark":{"type":"line","strokeWidth":1.1},"encoding":{"x":{"field":"t","type":"temporal","scale":{"type":"utc","domain":[{"year":2007,"month":4,"date":1,"utc":true},{"year":2021,"month":10,"date":20,"utc":true}]},"axis":{"title":null,"orient":"bottom","labelOffset":{"condition":{"test":"utcyear(datum.value) == 2020","value":-13},"value":0},"values":[{"year":2008,"month":1,"date":14,"utc":true},{"year":2014,"month":1,"date":6,"utc":true},{"year":2020,"month":12,"date":28,"utc":true}],"labelExpr":"utcFormat(datum.value, '%Y–%-m–%-d')"}},"y":{"field":"F","type":"quantitative","scale":{"domain":[-168,267]},"axis":{"title":null,"orient":"left","values":[-100,100]}},"color":{"datum":"ΔTOᵣ"},"strokeDash":{"datum":"ΔTOᵣ"}}},
{"mark":{"type":"line","strokeWidth":2},"encoding":{"x":{"field":"t","type":"temporal","axis":{"title":null,"orient":"bottom","labels":false,"values":[{"year":2008,"month":1,"date":14,"utc":true},{"year":2009,"month":1,"date":12,"utc":true},{"year":2010,"month":1,"date":11,"utc":true},{"year":2011,"month":1,"date":10,"utc":true},{"year":2012,"month":1,"date":9,"utc":true},{"year":2013,"month":1,"date":7,"utc":true},{"year":2014,"month":1,"date":6,"utc":true},{"year":2015,"month":1,"date":5,"utc":true},{"year":2016,"month":1,"date":4,"utc":true},{"year":2017,"month":1,"date":2,"utc":true},{"year":2018,"month":1,"date":1,"utc":true},{"year":2018,"month":12,"date":31,"utc":true},{"year":2019,"month":12,"date":30,"utc":true},{"year":2020,"month":12,"date":28,"utc":true}]}},"y":{"field":"f","type":"quantitative","axis":{"title":null,"orient":"left","values":[0,200]}},"color":{"datum":"ΔTOₗ"},"strokeDash":{"datum":"ΔTOₗ"}}},
{"mark":{"type":"rule","color":"#111","strokeWidth":1.2},"encoding":{"y":{"datum":0,"axis":null}}}
]},
{"title":"医疗保健","width":240,"height":92.5,"resolve":{"axis":{"x":"independent","y":"independent"}},"layer":[
{"mark":{"type":"line","strokeWidth":1.1},"encoding":{"x":{"field":"t","type":"temporal","scale":{"type":"utc","domain":[{"year":2007,"month":4,"date":1,"utc":true},{"year":2021,"month":10,"date":20,"utc":true}]},"axis":{"title":null,"orient":"bottom","labelOffset":{"condition":{"test":"utcyear(datum.value) == 2020","value":-13},"value":0},"values":[{"year":2008,"month":1,"date":14,"utc":true},{"year":2014,"month":1,"date":6,"utc":true},{"year":2020,"month":12,"date":28,"utc":true}],"labelExpr":"utcFormat(datum.value, '%Y–%-m–%-d')"}},"y":{"field":"G","type":"quantitative","scale":{"domain":[-198,402]},"axis":{"title":null,"orient":"left","values":[-100,100,300]}},"color":{"datum":"ΔTOᵣ"},"strokeDash":{"datum":"ΔTOᵣ"}}},
{"mark":{"type":"line","strokeWidth":2},"encoding":{"x":{"field":"t","type":"temporal","axis":{"title":null,"orient":"bottom","labels":false,"values":[{"year":2008,"month":1,"date":14,"utc":true},{"year":2009,"month":1,"date":12,"utc":true},{"year":2010,"month":1,"date":11,"utc":true},{"year":2011,"month":1,"date":10,"utc":true},{"year":2012,"month":1,"date":9,"utc":true},{"year":2013,"month":1,"date":7,"utc":true},{"year":2014,"month":1,"date":6,"utc":true},{"year":2015,"month":1,"date":5,"utc":true},{"year":2016,"month":1,"date":4,"utc":true},{"year":2017,"month":1,"date":2,"utc":true},{"year":2018,"month":1,"date":1,"utc":true},{"year":2018,"month":12,"date":31,"utc":true},{"year":2019,"month":12,"date":30,"utc":true},{"year":2020,"month":12,"date":28,"utc":true}]}},"y":{"field":"g","type":"quantitative","axis":{"title":null,"orient":"left","values":[0,200]}},"color":{"datum":"ΔTOₗ"},"strokeDash":{"datum":"ΔTOₗ"}}},
{"mark":{"type":"rule","color":"#111","strokeWidth":1.2},"encoding":{"y":{"datum":0,"axis":null}}}
]},
{"title":"信息技术","width":241,"height":92.5,"resolve":{"axis":{"x":"independent","y":"independent"}},"layer":[
{"mark":{"type":"line","strokeWidth":1.1},"encoding":{"x":{"field":"t","type":"temporal","scale":{"type":"utc","domain":[{"year":2007,"month":4,"date":1,"utc":true},{"year":2021,"month":10,"date":20,"utc":true}]},"axis":{"title":null,"orient":"bottom","labelOffset":{"condition":{"test":"utcyear(datum.value) == 2020","value":-13},"value":0},"values":[{"year":2008,"month":1,"date":14,"utc":true},{"year":2014,"month":1,"date":6,"utc":true},{"year":2020,"month":12,"date":28,"utc":true}],"labelExpr":"utcFormat(datum.value, '%Y–%-m–%-d')"}},"y":{"field":"H","type":"quantitative","scale":{"domain":[-197,388]},"axis":{"title":null,"orient":"left","values":[-100,100,300]}},"color":{"datum":"ΔTOᵣ"},"strokeDash":{"datum":"ΔTOᵣ"}}},
{"mark":{"type":"line","strokeWidth":2},"encoding":{"x":{"field":"t","type":"temporal","axis":{"title":null,"orient":"bottom","labels":false,"values":[{"year":2008,"month":1,"date":14,"utc":true},{"year":2009,"month":1,"date":12,"utc":true},{"year":2010,"month":1,"date":11,"utc":true},{"year":2011,"month":1,"date":10,"utc":true},{"year":2012,"month":1,"date":9,"utc":true},{"year":2013,"month":1,"date":7,"utc":true},{"year":2014,"month":1,"date":6,"utc":true},{"year":2015,"month":1,"date":5,"utc":true},{"year":2016,"month":1,"date":4,"utc":true},{"year":2017,"month":1,"date":2,"utc":true},{"year":2018,"month":1,"date":1,"utc":true},{"year":2018,"month":12,"date":31,"utc":true},{"year":2019,"month":12,"date":30,"utc":true},{"year":2020,"month":12,"date":28,"utc":true}]}},"y":{"field":"h","type":"quantitative","axis":{"title":null,"orient":"left","values":[0,200]}},"color":{"datum":"ΔTOₗ"},"strokeDash":{"datum":"ΔTOₗ"}}},
{"mark":{"type":"rule","color":"#111","strokeWidth":1.2},"encoding":{"y":{"datum":0,"axis":null}}}
]},
{"title":"公用事业","width":240,"height":92.5,"resolve":{"axis":{"x":"independent","y":"independent"}},"layer":[
{"mark":{"type":"line","strokeWidth":1.1},"encoding":{"x":{"field":"t","type":"temporal","scale":{"type":"utc","domain":[{"year":2007,"month":4,"date":1,"utc":true},{"year":2021,"month":10,"date":20,"utc":true}]},"axis":{"title":null,"orient":"bottom","labelOffset":{"condition":{"test":"utcyear(datum.value) == 2020","value":-13},"value":0},"values":[{"year":2008,"month":1,"date":14,"utc":true},{"year":2014,"month":1,"date":6,"utc":true},{"year":2020,"month":12,"date":28,"utc":true}],"labelExpr":"utcFormat(datum.value, '%Y–%-m–%-d')"}},"y":{"field":"I","type":"quantitative","scale":{"domain":[-190,395]},"axis":{"title":null,"orient":"left","values":[-100,100,300]}},"color":{"datum":"ΔTOᵣ"},"strokeDash":{"datum":"ΔTOᵣ"}}},
{"mark":{"type":"line","strokeWidth":2},"encoding":{"x":{"field":"t","type":"temporal","axis":{"title":null,"orient":"bottom","labels":false,"values":[{"year":2008,"month":1,"date":14,"utc":true},{"year":2009,"month":1,"date":12,"utc":true},{"year":2010,"month":1,"date":11,"utc":true},{"year":2011,"month":1,"date":10,"utc":true},{"year":2012,"month":1,"date":9,"utc":true},{"year":2013,"month":1,"date":7,"utc":true},{"year":2014,"month":1,"date":6,"utc":true},{"year":2015,"month":1,"date":5,"utc":true},{"year":2016,"month":1,"date":4,"utc":true},{"year":2017,"month":1,"date":2,"utc":true},{"year":2018,"month":1,"date":1,"utc":true},{"year":2018,"month":12,"date":31,"utc":true},{"year":2019,"month":12,"date":30,"utc":true},{"year":2020,"month":12,"date":28,"utc":true}]}},"y":{"field":"i","type":"quantitative","axis":{"title":null,"orient":"left","values":[0,200]}},"color":{"datum":"ΔTOₗ"},"strokeDash":{"datum":"ΔTOₗ"}}},
{"mark":{"type":"rule","color":"#111","strokeWidth":1.2},"encoding":{"y":{"datum":0,"axis":null}}}
]},
{"title":"房地产","width":241,"height":92.5,"resolve":{"axis":{"x":"independent","y":"independent"}},"layer":[
{"mark":{"type":"line","strokeWidth":1.1},"encoding":{"x":{"field":"t","type":"temporal","scale":{"type":"utc","domain":[{"year":2007,"month":4,"date":1,"utc":true},{"year":2021,"month":10,"date":20,"utc":true}]},"axis":{"title":null,"orient":"bottom","labelOffset":{"condition":{"test":"utcyear(datum.value) == 2020","value":-13},"value":0},"values":[{"year":2008,"month":1,"date":14,"utc":true},{"year":2014,"month":1,"date":6,"utc":true},{"year":2020,"month":12,"date":28,"utc":true}],"labelExpr":"utcFormat(datum.value, '%Y–%-m–%-d')"}},"y":{"field":"J","type":"quantitative","scale":{"domain":[-195,418]},"axis":{"title":null,"orient":"left","values":[-100,100,300]}},"color":{"datum":"ΔTOᵣ"},"strokeDash":{"datum":"ΔTOᵣ"}}},
{"mark":{"type":"line","strokeWidth":2},"encoding":{"x":{"field":"t","type":"temporal","axis":{"title":null,"orient":"bottom","labels":false,"values":[{"year":2008,"month":1,"date":14,"utc":true},{"year":2009,"month":1,"date":12,"utc":true},{"year":2010,"month":1,"date":11,"utc":true},{"year":2011,"month":1,"date":10,"utc":true},{"year":2012,"month":1,"date":9,"utc":true},{"year":2013,"month":1,"date":7,"utc":true},{"year":2014,"month":1,"date":6,"utc":true},{"year":2015,"month":1,"date":5,"utc":true},{"year":2016,"month":1,"date":4,"utc":true},{"year":2017,"month":1,"date":2,"utc":true},{"year":2018,"month":1,"date":1,"utc":true},{"year":2018,"month":12,"date":31,"utc":true},{"year":2019,"month":12,"date":30,"utc":true},{"year":2020,"month":12,"date":28,"utc":true}]}},"y":{"field":"j","type":"quantitative","axis":{"title":null,"orient":"left","values":[0,200]}},"color":{"datum":"ΔTOₗ"},"strokeDash":{"datum":"ΔTOₗ"}}},
{"mark":{"type":"rule","color":"#111","strokeWidth":1.2},"encoding":{"y":{"datum":0,"axis":null}}}
]}
]
}
